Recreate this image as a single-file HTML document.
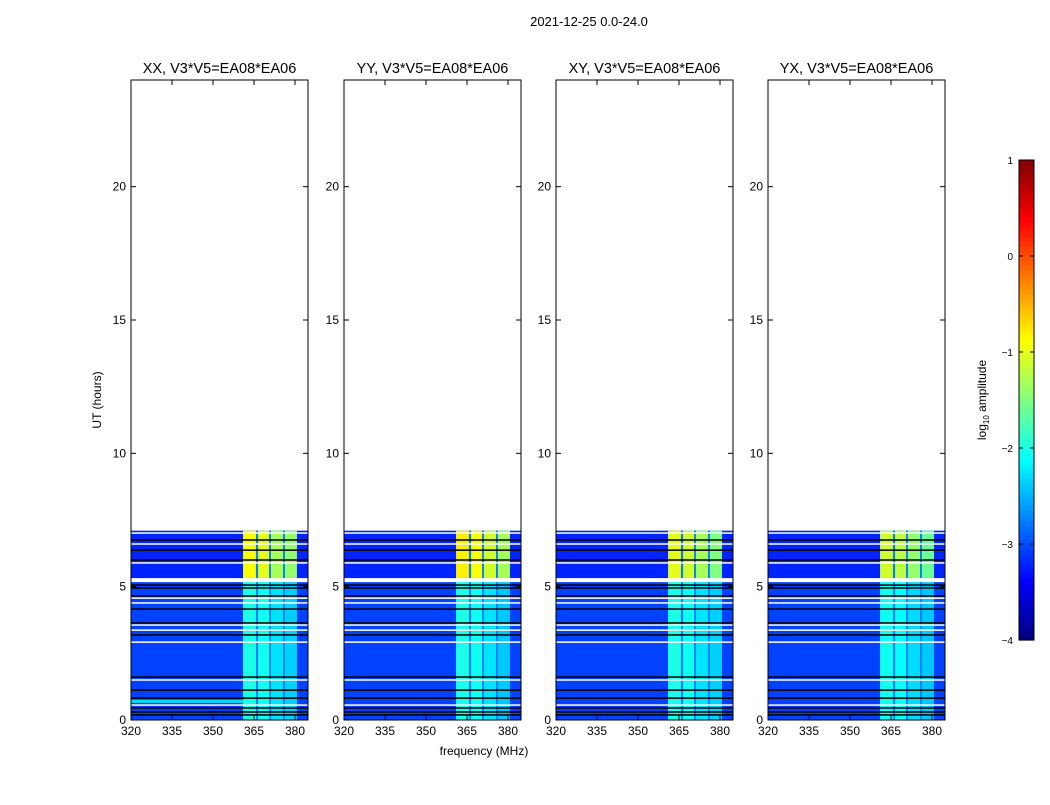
<!DOCTYPE html>
<html><head><meta charset="utf-8"><style>
html,body{margin:0;padding:0;background:#fff;}
svg text{font-family:"Liberation Sans","DejaVu Sans",sans-serif;fill:#000;}
</style></head><body>
<svg id="fig" width="1050" height="800" viewBox="0 0 1050 800" xmlns="http://www.w3.org/2000/svg">
<rect width="1050" height="800" fill="#fff"/>
<text x="589" y="26" font-size="13" text-anchor="middle">2021-12-25 0.0-24.0</text>
<text x="484" y="755" font-size="12" text-anchor="middle">frequency (MHz)</text>
<text transform="translate(101,400) rotate(-90)" font-size="12" text-anchor="middle">UT (hours)</text>
<g id="panels"></g>
<g id="cbar"></g>
</svg>
<script>
// ---- data ----
const panelTitles = ["XX, V3*V5=EA08*EA06","YY, V3*V5=EA08*EA06","XY, V3*V5=EA08*EA06","YX, V3*V5=EA08*EA06"];
const xTicks = [320,335,350,365,380];
const yTicks = [0,5,10,15,20];
const dataTopHour = 7.1;
const lateStartHour = 5.3;
const bgLevelEarly = -3.05;
const bgLevelLate = -3.2;
const bandLo = [361,366.5,371.2,376.3];
const bandHi = [365.7,370.5,375.6,380.7];
const bandLateLevels = [
  [-0.9,-1.0,-1.3,-1.4],
  [-0.8,-0.9,-1.1,-1.3],
  [-1.0,-1.1,-1.3,-1.5],
  [-1.1,-1.2,-1.4,-1.6]];
const bandEarlyLevels = [
  [-2.0,-2.05,-2.25,-2.35],
  [-2.0,-2.05,-2.25,-2.4],
  [-2.0,-2.05,-2.25,-2.35],
  [-2.05,-2.1,-2.3,-2.4]];
const gapLevel = -2.75;
const whiteHours = [7.01,6.6,5.89,4.57,4.39,3.56,3.37,2.92,1.5,0.56];
const whiteThick = [5.17,5.32];
const blackHours = [6.75,6.37,6.0,4.95,5.06,4.65,4.16,3.64,3.19,1.61,1.12,0.82,0.45,0.3,0.19];
const cyanRowLo = [0.64,null,null,null];
const cyanRowHi = [0.76,null,null,null];
const cbarTicks = [1,0,-1,-2,-3,-4];

// ---- helpers ----
const NS="http://www.w3.org/2000/svg";
const panelX=[131,344,556,768], PW=177, PT=80, PB=720;
function yScale(h){return PB-(PB-PT)*h/24;}
function xScale(p,f){return panelX[p]+(f-320)*PW/64.75;}
function jet(v){
  let t=(v+4)/5; t=Math.max(0,Math.min(1,t));
  const c=x=>Math.max(0,Math.min(1,x));
  const r=c(1.5-Math.abs(4*t-3)), g=c(1.5-Math.abs(4*t-2)), b=c(1.5-Math.abs(4*t-1));
  return `rgb(${Math.round(r*255)},${Math.round(g*255)},${Math.round(b*255)})`;
}
function mk(tag,attrs,parent){const e=document.createElementNS(NS,tag);for(const k in attrs)e.setAttribute(k,attrs[k]);parent.appendChild(e);return e;}

const root=document.getElementById('panels');
for(let p=0;p<4;p++){
  const g=mk('g',{},root);
  
  
  const x0=panelX[p];
  const yTop=yScale(dataTopHour), yLate=yScale(lateStartHour);
  let r=mk('rect',{x:x0,y:yTop,width:PW,height:yLate-yTop,fill:jet(bgLevelLate)},g);
  
  
  r=mk('rect',{x:x0,y:yLate,width:PW,height:PB-yLate,fill:jet(bgLevelEarly)},g);
  
  
  r=mk('rect',{x:xScale(p,bandLo[0]),y:yTop,width:xScale(p,bandHi[3])-xScale(p,bandLo[0]),height:PB-yTop,fill:jet(gapLevel)},g);
  
  
  for(let b=0;b<bandLo.length;b++){
    const xa=xScale(p,bandLo[b]), xb=xScale(p,bandHi[b]);
    r=mk('rect',{x:xa,y:yTop,width:xb-xa,height:yLate-yTop,fill:jet(bandLateLevels[p][b])},g);
    
    
    r=mk('rect',{x:xa,y:yLate,width:xb-xa,height:PB-yLate,fill:jet(bandEarlyLevels[p][b])},g);
    
    
  }
  if(cyanRowLo[p]!==null){
    r=mk('rect',{x:x0,y:yScale(cyanRowHi[p]),width:xScale(p,bandLo[0])-x0,height:yScale(cyanRowLo[p])-yScale(cyanRowHi[p]),fill:jet(-2.3)},g);
    
    
  }
  for(const h of blackHours){
    r=mk('rect',{x:x0,y:yScale(h)-0.75,width:PW,height:1.5,fill:'#000'},g);
    
    
  }
  for(const h of whiteHours){
    r=mk('rect',{x:x0,y:yScale(h)-0.75,width:PW,height:1.5,fill:'#fff'},g);
    
    
  }
  r=mk('rect',{x:x0,y:yScale(whiteThick[1]),width:PW,height:yScale(whiteThick[0])-yScale(whiteThick[1]),fill:'#fff'},g);
  
  
  r=mk('rect',{x:x0,y:PT,width:PW,height:PB-PT,fill:'none',stroke:'#000','stroke-width':1},g);
  
  
  for(const t of xTicks){
    const x=xScale(p,t);
    mk('line',{x1:x,x2:x,y1:PB,y2:PB-5,stroke:'#000'},g);
    mk('line',{x1:x,x2:x,y1:PT,y2:PT+5,stroke:'#000'},g);
    const tx=mk('text',{x:x,y:PB+15,'font-size':12,'text-anchor':'middle'},g);
    tx.textContent=t;
    
    
  }
  for(const t of yTicks){
    const y=yScale(t);
    mk('line',{x1:x0,x2:x0+5,y1:y,y2:y,stroke:'#000'},g);
    mk('line',{x1:x0+PW,x2:x0+PW-5,y1:y,y2:y,stroke:'#000'},g);
    const tx=mk('text',{x:x0-5,y:y+4,'font-size':12,'text-anchor':'end'},g);
    tx.textContent=t;
    
    
  }
  const tt=mk('text',{x:x0+PW/2,y:73,'font-size':14.5,'text-anchor':'middle'},g);
  tt.textContent=panelTitles[p];
  
  
}
const cb=document.getElementById('cbar');
const CX=1019,CW=15,CT=160,CB=640;
function cY(v){return CB-(v+4)/5*(CB-CT);}
const N=100;
for(let i=0;i<N;i++){
  const v=-4+5*(i+0.5)/N;
  const r=mk('rect',{x:CX,y:cY(-4+5*(i+1)/N),width:CW,height:(CB-CT)/N+0.6,fill:jet(v)},cb);
  
  
}
let fr=mk('rect',{x:CX,y:CT,width:CW,height:CB-CT,fill:'none',stroke:'#000'},cb);


for(const t of cbarTicks){
  const y=cY(t);
  mk('line',{x1:CX,x2:CX+4,y1:y,y2:y,stroke:'#000'},cb);
  mk('line',{x1:CX+CW,x2:CX+CW-4,y1:y,y2:y,stroke:'#000'},cb);
  const tx=mk('text',{x:CX-6,y:y+4,'font-size':10,'text-anchor':'end'},cb);
  tx.textContent=t<0?'\u2212'+(-t):String(t);
  
  
}
const lab=mk('text',{transform:'translate(986,400) rotate(-90)','font-size':12,'text-anchor':'middle'},cb);
lab.innerHTML='log<tspan font-size="8" dy="3">10</tspan><tspan dy="-3"> amplitude</tspan>';


</script>
</body></html>
